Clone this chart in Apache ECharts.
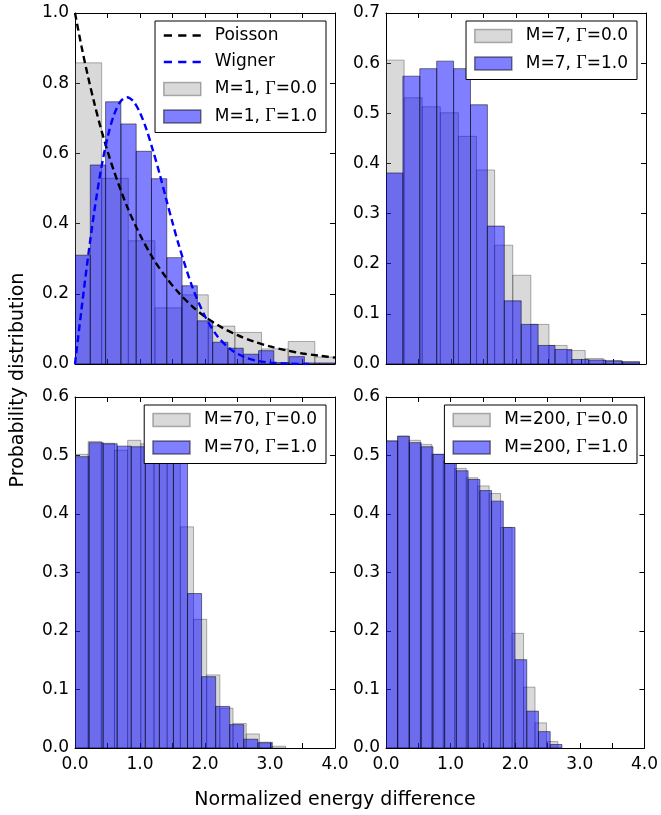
<!DOCTYPE html>
<html>
<head>
<meta charset="utf-8">
<script src="https://cdn.jsdelivr.net/npm/echarts@6/dist/echarts.min.js"></script>
<style>
  html, body { margin: 0; padding: 0; background: #fff; }
  #chart { width: 661px; height: 815px; }
</style>
</head>
<body>
<div id="chart"></div>
<script>
// Nearest-neighbour level spacing histograms (bins start at 0, fixed bin width)
const m1OffWidth = 0.41;
const m1Off = [0.858, 0.529, 0.351, 0.160, 0.197, 0.108, 0.090, 0.043, 0.064, 0.020];
const m1OnWidth = 0.2353;
const m1On = [0.310, 0.567, 0.747, 0.684, 0.606, 0.528, 0.303, 0.223, 0.123, 0.062, 0.045, 0.028, 0.038, 0.004, 0.021, 0.003, 0.003];

const m7OffWidth = 0.2786;
const m7Off = [0.606, 0.531, 0.513, 0.501, 0.454, 0.387, 0.237, 0.177, 0.079, 0.037, 0.027, 0.011, 0.007, 0.005];
const m7OnWidth = 0.26;
const m7On = [0.381, 0.574, 0.589, 0.604, 0.589, 0.517, 0.275, 0.126, 0.079, 0.037, 0.029, 0.009, 0.008, 0.006, 0.004];

const m70OffWidth = 0.2026;
const m70Off = [0.502, 0.524, 0.521, 0.509, 0.526, 0.520, 0.515, 0.510, 0.378, 0.220, 0.125, 0.068, 0.042, 0.024, 0.010, 0.003];
const m70OnWidth = 0.2164;
const m70On = [0.498, 0.522, 0.520, 0.516, 0.515, 0.512, 0.510, 0.500, 0.264, 0.122, 0.071, 0.040, 0.015, 0.009];

const m200OffWidth = 0.1774;
const m200Off = [0.525, 0.533, 0.526, 0.519, 0.502, 0.490, 0.478, 0.462, 0.448, 0.435, 0.377, 0.196, 0.104, 0.043, 0.011];
const m200OnWidth = 0.1815;
const m200On = [0.525, 0.533, 0.522, 0.515, 0.502, 0.488, 0.474, 0.459, 0.440, 0.422, 0.377, 0.151, 0.063, 0.028, 0.006];

// Reference distributions for uncorrelated and GOE-like spectra
const poissonS = [0, 0.1, 0.2, 0.3, 0.4, 0.5, 0.6, 0.8, 1.0, 1.2, 1.4, 1.6, 1.8, 2.0, 2.25, 2.5, 2.75, 3.0, 3.25, 3.5, 3.75, 4.0];
const poissonP = [1.00, 0.905, 0.819, 0.741, 0.670, 0.607, 0.549, 0.449, 0.368, 0.301, 0.247, 0.202, 0.165, 0.135, 0.105, 0.082, 0.064, 0.050, 0.039, 0.030, 0.024, 0.018];
const wignerS = [0, 0.1, 0.2, 0.3, 0.4, 0.5, 0.6, 0.7, 0.8, 0.9, 1.0, 1.1, 1.2, 1.3, 1.4, 1.5, 1.6, 1.8, 2.0, 2.2, 2.4, 2.6, 2.8, 3.0, 3.3, 3.6];
const wignerP = [0, 0.156, 0.304, 0.439, 0.554, 0.645, 0.710, 0.748, 0.760, 0.748, 0.716, 0.668, 0.608, 0.543, 0.472, 0.403, 0.337, 0.222, 0.136, 0.077, 0.041, 0.020, 0.009, 0.004, 0.001, 0.000];

// Axis ranges and ticks per panel
const yMax = [1.0, 0.7, 0.6, 0.6];
const yStep = [0.2, 0.1, 0.1, 0.1];
const xMin = 0, xMax = 4, xStep = 0.5;

const labelOff = ['M=1, Γ=0.0', 'M=7, Γ=0.0', 'M=70, Γ=0.0', 'M=200, Γ=0.0'];
const labelOn = ['M=1, Γ=1.0', 'M=7, Γ=1.0', 'M=70, Γ=1.0', 'M=200, Γ=1.0'];

const FONT = 'DejaVu Sans';
const GRAY_FILL = 'rgba(128,128,128,0.3)';
const GRAY_EDGE = 'rgba(0,0,0,0.3)';
const BLUE_FILL = 'rgba(0,0,255,0.5)';
const BLUE_EDGE = 'rgba(0,0,0,0.5)';
// three-dash legend glyph for the dashed curves
const DASH_ICON = 'path://M0,0h8v2.5h-8z M14,0h8v2.5h-8z M28,0h8v2.5h-8z';

const grids = [
  { left: 75, top: 13, width: 260, height: 351 },
  { left: 386, top: 13, width: 260, height: 351 },
  { left: 75, top: 397, width: 260, height: 351 },
  { left: 386, top: 397, width: 260, height: 351 }
];

function histSeries(name, binWidth, heights, gi, fill, edge) {
  return {
    type: 'custom',
    name: name,
    xAxisIndex: gi * 2,
    yAxisIndex: gi * 2,
    clip: true,
    itemStyle: { color: fill, borderColor: edge, borderWidth: 1 },
    data: heights.map((h, i) => [i * binWidth, (i + 1) * binWidth, h]),
    encode: { x: [0, 1], y: 2 },
    renderItem: function (params, api) {
      const top = api.coord([api.value(0), api.value(2)]);
      const bot = api.coord([api.value(1), 0]);
      return {
        type: 'rect',
        shape: { x: top[0], y: top[1], width: bot[0] - top[0], height: bot[1] - top[1] },
        style: { fill: fill, stroke: edge, lineWidth: 1 }
      };
    }
  };
}

function curveSeries(name, xs, ys, color) {
  return {
    type: 'line',
    name: name,
    xAxisIndex: 0,
    yAxisIndex: 0,
    data: xs.map((x, i) => [x, ys[i]]),
    smooth: 0.3,
    symbol: 'none',
    showSymbol: false,
    z: 5,
    lineStyle: { color: color, width: 2.4, type: [7, 4] },
    itemStyle: { color: color }
  };
}

const xAxes = [];
const yAxes = [];
grids.forEach((g, gi) => {
  const axLine = { show: true, onZero: false, lineStyle: { color: '#000', width: 1 } };
  const tick = { show: true, inside: true, length: 5, lineStyle: { color: '#000', width: 1 } };
  const xBase = { gridIndex: gi, type: 'value', min: xMin, max: xMax, interval: xStep,
    axisLine: axLine, axisTick: tick, splitLine: { show: false } };
  xAxes.push(Object.assign({}, xBase, {
    position: 'bottom',
    axisLabel: {
      show: gi >= 2, color: '#000', fontFamily: FONT, fontSize: 17, margin: 8,
      formatter: v => (Math.abs(v - Math.round(v)) < 1e-9 ? v.toFixed(1) : '')
    }
  }));
  xAxes.push(Object.assign({}, xBase, { position: 'top', axisLabel: { show: false } }));
  const yBase = { gridIndex: gi, type: 'value', min: 0, max: yMax[gi], interval: yStep[gi],
    axisLine: axLine, axisTick: tick, splitLine: { show: false } };
  yAxes.push(Object.assign({}, yBase, {
    position: 'left',
    axisLabel: { show: true, color: '#000', fontFamily: FONT, fontSize: 17, margin: 6,
      formatter: v => v.toFixed(1) }
  }));
  yAxes.push(Object.assign({}, yBase, { position: 'right', axisLabel: { show: false } }));
});

const offData = [[m1OffWidth, m1Off], [m7OffWidth, m7Off], [m70OffWidth, m70Off], [m200OffWidth, m200Off]];
const onData = [[m1OnWidth, m1On], [m7OnWidth, m7On], [m70OnWidth, m70On], [m200OnWidth, m200On]];

const series = [];
for (let gi = 0; gi < 4; gi++) {
  series.push(histSeries(labelOff[gi], offData[gi][0], offData[gi][1], gi, GRAY_FILL, GRAY_EDGE));
  series.push(histSeries(labelOn[gi], onData[gi][0], onData[gi][1], gi, BLUE_FILL, BLUE_EDGE));
}
series.push(curveSeries('Poisson', poissonS, poissonP, '#000'));
series.push(curveSeries('Wigner', wignerS, wignerP, '#0000ff'));

function patchItem(name, fill, edge) {
  return { name: name, icon: 'rect', itemStyle: { color: fill, borderColor: edge, borderWidth: 1.5 } };
}
function dashItem(name, color) {
  return { name: name, icon: DASH_ICON, itemStyle: { color: color, borderWidth: 0 } };
}

function legendBox(items, right, top) {
  return {
    orient: 'vertical',
    right: right,
    top: top,
    data: items,
    selectedMode: false,
    backgroundColor: '#fff',
    borderColor: '#000',
    borderWidth: 1,
    borderRadius: 0,
    padding: [6, 9, 7, 8],
    itemGap: 9.5,
    itemWidth: 37,
    itemHeight: 13,
    formatter: n => n.replace('Γ', '{g|Γ}'),
    textStyle: {
      color: '#000', fontFamily: FONT, fontSize: 17, padding: [0, 0, 0, 9],
      rich: { g: { fontFamily: 'Liberation Serif', fontSize: 18, color: '#000' } }
    }
  };
}

const legends = [
  legendBox([
    dashItem('Poisson', '#000'), dashItem('Wigner', '#0000ff'),
    patchItem(labelOff[0], GRAY_FILL, GRAY_EDGE), patchItem(labelOn[0], BLUE_FILL, BLUE_EDGE)
  ], 335, 21),
  legendBox([patchItem(labelOff[1], GRAY_FILL, GRAY_EDGE), patchItem(labelOn[1], BLUE_FILL, BLUE_EDGE)], 24, 21),
  legendBox([patchItem(labelOff[2], GRAY_FILL, GRAY_EDGE), patchItem(labelOn[2], BLUE_FILL, BLUE_EDGE)], 335, 405),
  legendBox([patchItem(labelOff[3], GRAY_FILL, GRAY_EDGE), patchItem(labelOn[3], BLUE_FILL, BLUE_EDGE)], 24, 405)
];

const chart = echarts.init(document.getElementById('chart'), null, { renderer: 'canvas' });
chart.setOption({
  animation: false,
  backgroundColor: '#fff',
  grid: grids,
  xAxis: xAxes,
  yAxis: yAxes,
  legend: legends,
  series: series,
  graphic: [
    {
      type: 'text', x: 18, y: 380, rotation: Math.PI / 2,
      style: { text: 'Probability distribution', fontFamily: FONT, fontSize: 19, fill: '#000',
        align: 'center', verticalAlign: 'middle' }
    },
    {
      type: 'text', x: 335, y: 800,
      style: { text: 'Normalized energy difference', fontFamily: FONT, fontSize: 19, fill: '#000',
        align: 'center', verticalAlign: 'middle' }
    }
  ]
});
</script>
</body>
</html>
